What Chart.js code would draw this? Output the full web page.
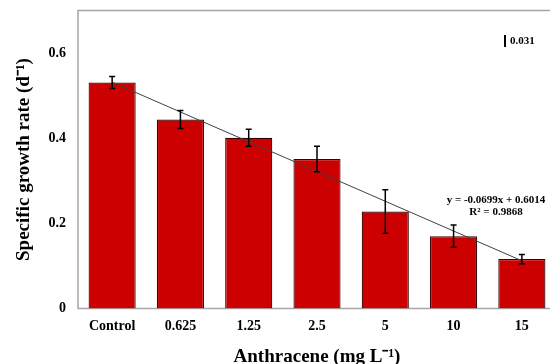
<!DOCTYPE html>
<html>
<head>
<meta charset="utf-8">
<script src="https://cdn.jsdelivr.net/npm/chart.js@4.4.1/dist/chart.umd.min.js"></script>
<style>
  html, body { margin: 0; padding: 0; background: #fff; overflow: hidden; }
  #wrap { width: 550px; height: 364px; overflow: hidden; }
  #box { width: 556px; height: 364px; }
</style>
</head>
<body>
<div id="wrap"><div id="box"><canvas id="growthChart"></canvas></div></div>
<script>
// concentrations (x categories)
var concLabels = ['Control', '0.625', '1.25', '2.5', '5', '10', '15'];
// specific growth rate, mean and SD
var growthRate = [0.531, 0.444, 0.401, 0.351, 0.228, 0.170, 0.116];
var growthErr = [0.014, 0.021, 0.020, 0.030, 0.051, 0.026, 0.011];
// linear trendline, read at first and last category
var trendLine = [0.5315, null, null, null, null, null, 0.1121];
var yTicks = [0, 0.2, 0.4, 0.6];

var serif = "'Liberation Serif', 'Times New Roman', serif";

// error bars + frame + text boxes
var extras = {
    id: 'extras',
    beforeDatasetsDraw: function (chart) {
        var ctx = chart.ctx, a = chart.chartArea;
        ctx.save();
        ctx.strokeStyle = '#a6a6a6';
        ctx.lineWidth = 1.5;
        ctx.beginPath();
        ctx.moveTo(a.right, a.top);
        ctx.lineTo(a.left, a.top);
        ctx.lineTo(a.left, a.bottom);
        ctx.lineTo(a.right, a.bottom);
        ctx.stroke();
        ctx.restore();
    },
    afterDatasetsDraw: function (chart) {
        var ctx = chart.ctx;
        var y = chart.scales.y;
        var meta = chart.getDatasetMeta(0);
        ctx.save();
        ctx.strokeStyle = '#000';
        ctx.lineWidth = 1.5;
        for (var i = 0; i < growthRate.length; i++) {
            var x = meta.data[i].x;
            var t = y.getPixelForValue(growthRate[i] + growthErr[i]);
            var b = y.getPixelForValue(growthRate[i] - growthErr[i]);
            ctx.beginPath();
            ctx.moveTo(x, t); ctx.lineTo(x, b);
            ctx.moveTo(x - 3, t); ctx.lineTo(x + 3, t);
            ctx.moveTo(x - 3, b); ctx.lineTo(x + 3, b);
            ctx.stroke();
        }
        // equation
        ctx.fillStyle = '#000';
        ctx.font = 'bold 11px ' + serif;
        ctx.textAlign = 'center';
        ctx.textBaseline = 'middle';
        ctx.fillText('y = -0.0699x + 0.6014', 496, 200);
        ctx.fillText('R² = 0.9868', 496, 212);
        // LSD bar
        ctx.beginPath();
        ctx.lineWidth = 2;
        ctx.moveTo(505, 35); ctx.lineTo(505, 47);
        ctx.stroke();
        ctx.textAlign = 'left';
        ctx.fillText('0.031', 510, 41);
        ctx.restore();
    }
};

new Chart(document.getElementById('growthChart'), {
    type: 'bar',
    data: {
        labels: concLabels,
        datasets: [
            {
                type: 'line',
                data: trendLine,
                spanGaps: true,
                borderColor: '#404040',
                borderWidth: 1,
                pointRadius: 0,
                fill: false,
                order: 0
            },
            {
                data: growthRate,
                backgroundColor: '#cc0000',
                borderColor: '#3d0000',
                borderWidth: 1.2,
                categoryPercentage: 1,
                barPercentage: 0.69,
                order: 1
            }
        ]
    },
    options: {
        responsive: true,
        maintainAspectRatio: false,
        animation: false,
        layout: { padding: { top: 10.5, left: 0, right: 0, bottom: 0 } },
        plugins: { legend: { display: false }, tooltip: { enabled: false } },
        scales: {
            x: {
                grid: { display: false, drawTicks: false },
                border: { display: false },
                ticks: { color: '#000', padding: 9, font: { family: serif, weight: 'bold', size: 14 } },
                title: {
                    display: true,
                    text: 'Anthracene (mg L⁻¹)',
                    color: '#000',
                    font: { family: serif, weight: 'bold', size: 19, lineHeight: 1 },
                    padding: { top: 0, bottom: -3 }
                },
                afterFit: function (s) { s.height = 55.5; s.paddingLeft = 0; s.paddingRight = 0; }
            },
            y: {
                min: 0,
                max: 0.7,
                grid: { display: false, drawTicks: false },
                border: { display: false },
                ticks: {
                    stepSize: 0.2,
                    color: '#000',
                    padding: 12,
                    font: { family: serif, weight: 'bold', size: 14 },
                    callback: function (v) { return String(Math.round(v * 10) / 10); }
                },
                afterBuildTicks: function (s) {
                    s.ticks = yTicks.map(function (v) { return { value: v }; });
                },
                title: {
                    display: true,
                    text: 'Specific growth rate (d⁻¹)',
                    color: '#000',
                    font: { family: serif, weight: 'bold', size: 19, lineHeight: 1 },
                    padding: { top: 15, bottom: 0 }
                },
                afterFit: function (s) { s.width = 78; s.paddingTop = 0; s.paddingBottom = 0; }
            }
        }
    },
    plugins: [extras]
});
</script>
</body>
</html>
